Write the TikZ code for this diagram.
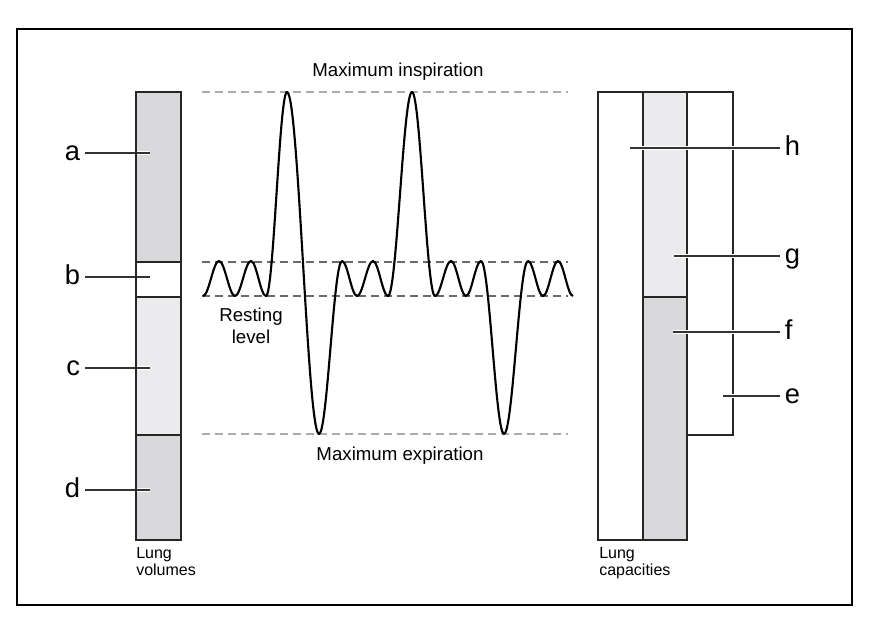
\documentclass[tikz,border=0pt]{standalone}
\usepackage{fontspec}
\setmainfont{Liberation Sans}
\usetikzlibrary{
    positioning,
    calc
}
\definecolor{VolDark}{HTML}{D9D9DB}
\definecolor{VolLight}{HTML}{EBEBED}
\definecolor{RefDash}{HTML}{ABABAB}
\definecolor{RestDash}{HTML}{6A6A6A}
\tikzset{
    bar/.style={
        draw=black!85,
        line width=0.9pt,
    },
    leader/.style={
        draw=black!80,
        line width=0.9pt,
        preaction={draw=white,line width=3.5pt},
    },
    letter/.style={
        font=\fontsize{20.5}{22}\selectfont,
        inner sep=3.5pt,
    },
    caption/.style={
        font=\fontsize{14}{16.5}\selectfont,
        align=center,
        inner sep=0pt,
    },
    barname/.style={
        font=\fontsize{12}{12.75}\selectfont,
        align=left,
        inner sep=0pt,
        anchor=base west,
    },
    refline/.style={
        draw=RefDash,
        line width=0.8pt,
        dash pattern=on 6pt off 3.75pt,
    },
    restline/.style={
        refline,
        draw=RestDash,
    },
    wave/.style={
        line width=1.6pt,
        line join=round,
    },
}
\begin{document}
\begin{tikzpicture}[x=0.75pt,y=-0.75pt]
    \useasboundingbox (0,0) rectangle (870,619);
    \draw[line width=1pt] (17,29) rectangle (852,605);

    % lung volumes
    \fill[VolDark] (136,92) rectangle (181,262);
    \fill[white] (136,262) rectangle (181,297);
    \fill[VolLight] (136,297) rectangle (181,435);
    \fill[VolDark] (136,435) rectangle (181,540);

    \node[letter,anchor=base east] (a) at (85,160) {a};
    \node[letter,anchor=base east] (b) at (85,284) {b};
    \node[letter,anchor=base east] (c) at (85,375) {c};
    \node[letter,anchor=base east] (d) at (85,497) {d};
    \coordinate (a-in) at (150,153);
    \coordinate (b-in) at (150,277);
    \coordinate (c-in) at (150,368);
    \coordinate (d-in) at (150,490);
    \foreach \v in {a,b,c,d}
        \draw[leader] (\v.east |- \v-in) -- (\v-in);

    \draw[bar] (136,92) rectangle (181,540);
    \draw[bar] (136,262) -- (181,262) (136,297) -- (181,297) (136,435) -- (181,435);
    \node[barname] (volumes) at (136,575) {Lung\\volumes};

    % lung capacities
    \fill[VolLight] (643,92) rectangle (687,297);
    \fill[VolDark] (643,297) rectangle (687,540);
    \draw[bar] (598,92) rectangle (687,540);
    \draw[bar] (643,92) -- (643,540) (643,297) -- (687,297);
    \draw[bar] (687,92) -- (733,92) -- (733,435) -- (687,435);

    \node[letter,anchor=base west] (h) at (780,155) {h};
    \node[letter,anchor=base west] (g) at (780,263) {g};
    \node[letter,anchor=base west] (f) at (780,339) {f};
    \node[letter,anchor=base west] (e) at (780,403) {e};
    \coordinate (h-in) at (630,148);
    \coordinate (g-in) at (674,256);
    \coordinate (f-in) at (673,332);
    \coordinate (e-in) at (723,396);
    \foreach \v in {h,g,f,e}
        \draw[leader] (\v-in) -- (\v.west |- \v-in);
    \node[barname] (capacities) at (599,575) {Lung\\capacities};

    % spirogram
    \coordinate (top-l) at (202,92);   \coordinate (top-r) at (568,92);
    \coordinate (up-l) at (202,262);   \coordinate (up-r) at (568,262);
    \coordinate (lo-l) at (202,296);   \coordinate (lo-r) at (568,296);
    \coordinate (bot-l) at (202,434);  \coordinate (bot-r) at (568,434);
    \draw[refline] (top-l) -- (top-r);
    \draw[refline] (bot-l) -- (bot-r);
    \draw[restline] (up-l) -- (up-r);
    \draw[restline] (lo-l) -- (lo-r);

    \draw[wave] (203,296)
        cos (211,278.5) sin (219,261)
        cos (227,278.5) sin (235,296)
        cos (243,278.5) sin (251,261)
        cos (258.5,278.5) sin (266,296)
        cos (276.5,194) sin (287,92)
        cos (303,263) sin (319,434)
        cos (330.5,347.5) sin (342,261)
        cos (349.5,278.5) sin (357,296)
        cos (365,278.5) sin (373,261)
        cos (380.5,278.5) sin (388,296)
        cos (400,194) sin (412,92)
        cos (423.5,194) sin (435,296)
        cos (443,278.5) sin (451,261)
        cos (458.5,278.5) sin (466,296)
        cos (473.5,278.5) sin (481,261)
        cos (492.5,347.5) sin (504,434)
        cos (516,347.5) sin (528,261)
        cos (535.5,278.5) sin (543,296)
        cos (550.5,278.5) sin (558,261)
        cos (565.5,278.5) sin (573,296);

    \node[caption,anchor=base] (maxin) at (398,76) {Maximum inspiration};
    \node[caption,anchor=base] (maxex) at (400,460) {Maximum expiration};
    \node[caption,anchor=base] (rest) at (251,343) {Resting\\level};
\end{tikzpicture}
\end{document}
